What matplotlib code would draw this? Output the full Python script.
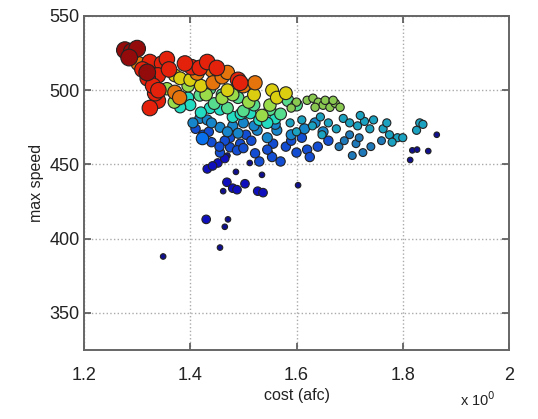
import matplotlib
matplotlib.use("Agg")
import matplotlib.pyplot as plt
import numpy as np

# ---- data ----
# each group: x (cost), y (max speed), shared colour value (jet 0..1) and marker size
black_x = [1.349, 1.456, 1.471, 1.465, 1.462, 1.486, 1.512, 1.535, 1.603, 1.818, 1.827, 1.848, 1.814, 1.864, 1.55, 1.47]
black_y = [388, 394, 413, 408, 432, 445, 451, 443, 436, 459.5, 460, 459, 453, 470, 458, 456]

navy_x = [1.432, 1.452, 1.465, 1.430, 1.469, 1.480, 1.488, 1.503, 1.527, 1.537, 1.442]
navy_y = [447, 451, 454, 413, 438, 434, 433, 437, 432, 431, 449]

blue_x = [1.424, 1.475, 1.494, 1.556, 1.475, 1.488, 1.522, 1.554, 1.456, 1.500, 1.440, 1.465,
          1.580, 1.600, 1.620, 1.570, 1.530, 1.640, 1.660, 1.610, 1.625, 1.505, 1.455,
          1.410, 1.435, 1.515, 1.545, 1.590]
blue_y = [470, 468, 464, 464, 461.5, 459.5, 457.5, 455, 458, 461, 465, 466,
          462, 458, 460, 452, 452, 462, 466, 468, 455, 470, 462,
          474, 472, 466, 460, 466]

bright_x = [1.422]
bright_y = [468]

lblue_x = [1.418, 1.432, 1.456, 1.440, 1.480, 1.500, 1.526, 1.545, 1.563, 1.590, 1.520, 1.470,
           1.405, 1.615, 1.635, 1.650, 1.490, 1.560]
lblue_y = [481, 480, 475, 478, 476, 478, 473, 468, 473, 470, 476, 472,
           478, 474, 478, 472, 471, 477]

dteal_x = [1.700, 1.712, 1.725, 1.705, 1.718, 1.680, 1.690, 1.740, 1.760]
dteal_y = [470, 464, 458, 456, 468, 462, 466, 462, 466]

teal_x = [1.588, 1.610, 1.630, 1.688, 1.700, 1.715, 1.728, 1.738, 1.763, 1.775, 1.790, 1.780,
          1.832, 1.826, 1.838, 1.660, 1.675, 1.648, 1.600, 1.645, 1.720, 1.770, 1.800, 1.745]
teal_y = [478, 480, 476, 481, 478, 476, 479, 474, 474, 470, 468, 465,
          478, 473, 477, 478, 474, 470, 472, 482, 483, 478, 468, 480]

cyan_x = [1.396, 1.437, 1.456, 1.513, 1.400, 1.381, 1.420, 1.480, 1.530, 1.560, 1.495, 1.545]
cyan_y = [495, 488, 487, 484.5, 490, 488.5, 485, 482, 480, 481, 484, 478]

cgreen_x = [1.418, 1.437, 1.584, 1.600, 1.490, 1.520, 1.445, 1.470, 1.500, 1.550, 1.570, 1.460]
cgreen_y = [496.6, 501, 493, 490, 495, 490, 491, 488, 486, 487, 484, 497]

sgreen_x = [1.620, 1.631, 1.641, 1.650, 1.663, 1.673, 1.682, 1.635, 1.654, 1.669, 1.600, 1.590]
sgreen_y = [493.2, 494.6, 491.9, 489.9, 488.5, 491.2, 488.5, 488.5, 493.2, 493.2, 492, 488]

ygreen_x = [1.356, 1.396, 1.460, 1.480, 1.535, 1.510, 1.550, 1.430, 1.370]
ygreen_y = [501, 503, 494.6, 497, 483, 492, 490, 497, 492]

yellow_x = [1.371, 1.381, 1.554, 1.563, 1.400, 1.470, 1.520, 1.580, 1.420]
yellow_y = [510, 508, 500, 495, 507, 500, 497, 498, 503]

orange_x = [1.302, 1.371, 1.413, 1.441, 1.443, 1.460, 1.500, 1.522, 1.330, 1.380, 1.470]
orange_y = [518, 498.6, 511.5, 513.5, 505, 509, 503, 505, 512, 495, 512]

red_x = [1.324, 1.347, 1.356, 1.339, 1.320, 1.339, 1.334, 1.403, 1.418, 1.432, 1.450, 1.490,
         1.310, 1.360, 1.330, 1.324, 1.494, 1.390, 1.340]
red_y = [519, 518, 521, 510, 508, 493, 498, 515.5, 515, 519, 515, 507,
         514, 514, 503, 488, 505, 518, 500]

dred_x = [1.277, 1.290, 1.300, 1.319, 1.285]
dred_y = [527, 526, 528, 512, 522]

groups = [
    (black_x, black_y, 0.03, 16, 0.2),
    (navy_x, navy_y, 0.08, 38, 0.2),
    (blue_x, blue_y, 0.20, 45, 0.25),
    (bright_x, bright_y, 0.24, 80, 0.1),
    (lblue_x, lblue_y, 0.28, 52, 0.3),
    (dteal_x, dteal_y, 0.27, 32, 0.4),
    (teal_x, teal_y, 0.33, 34, 0.35),
    (cyan_x, cyan_y, 0.38, 65, 0.2),
    (cgreen_x, cgreen_y, 0.46, 72, 0.2),
    (sgreen_x, sgreen_y, 0.55, 36, 0.3),
    (ygreen_x, ygreen_y, 0.56, 80, 0.2),
    (yellow_x, yellow_y, 0.66, 85, 0.2),
    (orange_x, orange_y, 0.78, 105, 0.15),
    (red_x, red_y, 0.88, 125, 0.15),
    (dred_x, dred_y, 0.97, 145, 0.15),
]

x_ticks = [1.2, 1.4, 1.6, 1.8, 2.0]
x_tick_labels = ["1.2", "1.4", "1.6", "1.8", "2"]
y_ticks = [350, 400, 450, 500, 550]

# ---- plot ----
plt.rcParams['font.family'] = ['Liberation Sans', 'DejaVu Sans']
fig = plt.figure(figsize=(5.38, 4.19), dpi=100)
ax = fig.add_axes([84/538, 1-350/419, (509-84)/538, (350-16)/419])

cmap = plt.get_cmap('jet')
grey = np.array([0.3, 0.3, 0.3])
for gx, gy, cv, sz, mix in groups:
    base = np.array(cmap(cv)[:3])
    col = (1 - mix) * base + mix * grey
    ax.scatter(gx, gy, s=sz, c=[tuple(col)] * len(gx), edgecolors='#222222',
               linewidths=0.8, zorder=3)

ax.set_xlim(1.2, 2.0)
ax.set_ylim(325, 550)
ax.set_xticks(x_ticks)
ax.set_xticklabels(x_tick_labels)
ax.set_yticks(y_ticks)
ax.grid(True, linestyle=':', color='#aaaaaa', linewidth=1.0, zorder=0)
ax.set_axisbelow(True)
ax.tick_params(direction='in', length=5, width=1.2, colors='#555555',
               labelcolor='#222222', labelsize=13, top=True, right=True)
ax.tick_params(axis='x', pad=12)
ax.tick_params(axis='y', pad=3)
for sp in ax.spines.values():
    sp.set_color('#666666')
    sp.set_linewidth(1.4)

ax.set_xlabel('cost (afc)', fontsize=11.5, color='#222222', labelpad=3)
ax.set_ylabel('max speed', fontsize=11.5, color='#222222', labelpad=4)
fig.text(0.855, 0.03, r'x 10$^{0}$', fontsize=10.5, color='#222222')

fig.savefig('out.png', dpi=100)
